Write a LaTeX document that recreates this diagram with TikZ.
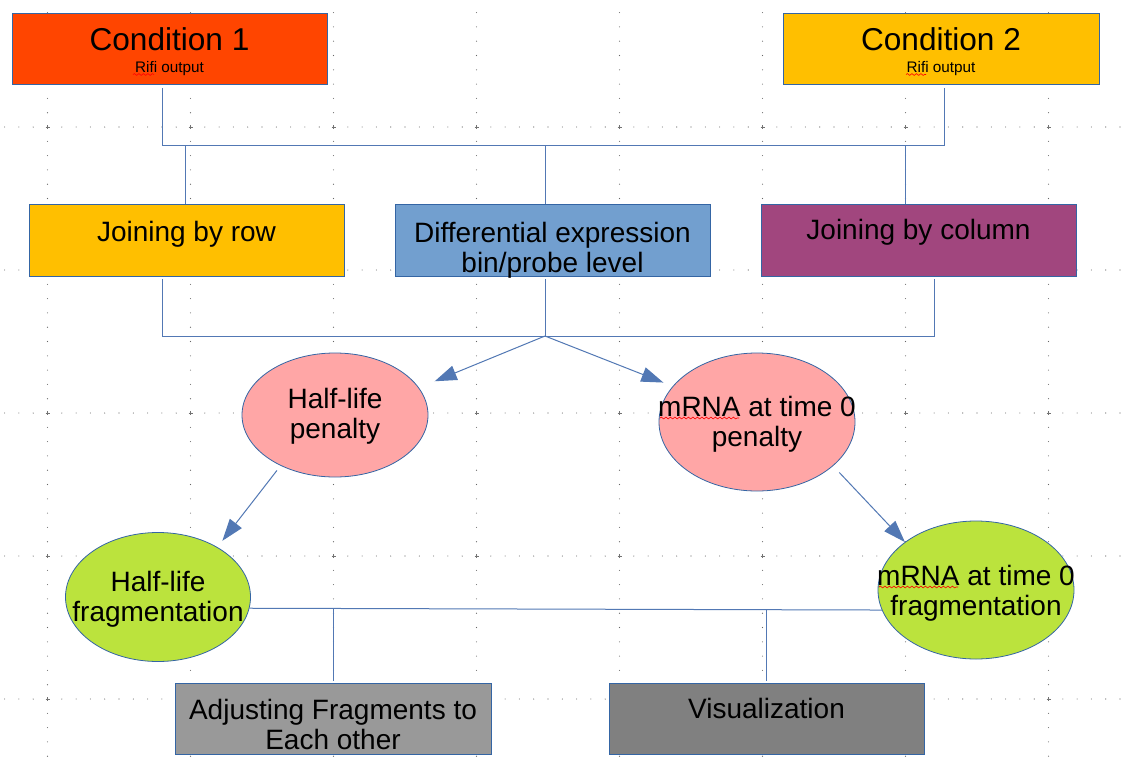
\documentclass[tikz,border=0pt]{standalone}
\usepackage{fontspec}
\setmainfont{Liberation Sans}
\usetikzlibrary{arrows.meta,shapes.geometric,decorations.pathmorphing}

\definecolor{condred}{RGB}{255,69,0}
\definecolor{condgold}{RGB}{255,191,0}
\definecolor{diffblue}{RGB}{114,159,207}
\definecolor{colplum}{RGB}{161,70,126}
\definecolor{penrose}{RGB}{255,166,166}
\definecolor{fraglime}{RGB}{187,227,61}
\definecolor{adjgray}{RGB}{153,153,153}
\definecolor{visgray}{RGB}{128,128,128}
\definecolor{edgeblue}{RGB}{52,101,164}
\definecolor{linkblue}{RGB}{82,120,180}

\tikzset{
  box/.style={draw=edgeblue, line width=0.8pt, minimum width=315pt, minimum height=71pt,
    inner sep=0pt, align=center, font=\fontsize{28}{30}\selectfont},
  blob/.style={ellipse, draw=edgeblue, line width=0.8pt, inner sep=0pt},
  blobtext/.style={align=center, inner sep=0pt, font=\fontsize{28}{30}\selectfont},
  textshift/.style 2 args={text height=#1, text depth=#2},
  condfont/.style={font=\fontsize{31.6}{22}\selectfont},
  link/.style={draw=linkblue, line width=1pt},
  flow/.style={link, -{Triangle[length=22pt,width=15pt]}},
  griddot/.style={fill=black!60, draw=none},
  gridcross/.style={draw=black!55, line width=0.4pt},
  spell/.style={draw=red, line width=0.6pt, decorate,
    decoration={snake, amplitude=0.9pt, segment length=4.5pt}}
}

\begin{document}
\begin{tikzpicture}[x=1pt, y=1pt]
\useasboundingbox (0,0) rectangle (1130,-766);
\fill[white] (0,0) rectangle (1130,-766);

% drawing grid
\foreach \k in {0,...,7}
  \foreach \j in {-8,...,44}
    {\fill[griddot] ({47.5+143*\k},{-127-14.3*\j}) circle (0.55);}
\foreach \r in {0,...,4}
  \foreach \i in {-3,...,75}
    {\fill[griddot] ({47.5+14.3*\i},{-127-143*\r}) circle (0.55);}
\foreach \k in {0,...,7}
  \foreach \r in {0,...,4}
    {\draw[gridcross] ({45.5+143*\k},{-127-143*\r}) -- ++(4,0) ({47.5+143*\k},{-125-143*\r}) -- ++(0,-4);}

% boxes
\node[box, fill=condred, condfont, textshift={50pt}{3pt}] (cond1) at (169.5,-48.5)
  {Condition 1\\{\fontsize{15.3}{22}\selectfont Rifi output}};
\node[box, fill=condgold, minimum width=316pt, condfont, textshift={50pt}{3pt}] (cond2) at (941,-48.5)
  {Condition 2\\{\fontsize{15.3}{22}\selectfont Rifi output}};
\node[box, fill=condgold, minimum height=72pt, textshift={20pt}{18pt}] (rowjoin) at (186.5,-240) {Joining by row};
\node[box, fill=diffblue, minimum height=72pt, textshift={66pt}{2pt}] (diffexp) at (552.5,-240)
  {Differential expression\\bin/probe level};
\node[box, fill=colplum, minimum height=72pt, textshift={20pt}{22pt}] (coljoin) at (918.5,-240) {Joining by column};
\node[box, fill=adjgray, minimum width=316pt, textshift={64pt}{3pt}] (adjust) at (333,-718.5) {Adjusting Fragments to\\Each other};
\node[box, fill=visgray, textshift={20pt}{21pt}] (visual) at (766.5,-718.5) {Visualization};

% ellipses
\node[blob, fill=penrose, minimum width=186pt, minimum height=124pt] (hlpen) at (335,-415) {};
\node[blob, fill=penrose, minimum width=196pt, minimum height=138pt] (mpen) at (757,-422) {};
\node[blob, fill=fraglime, minimum width=185pt, minimum height=129pt] (hlfrag) at (158,-597) {};
\node[blob, fill=fraglime, minimum width=196pt, minimum height=138pt] (mfrag) at (976,-590) {};
\node[blobtext, textshift={80pt}{34pt}] (hlpentxt) at (hlpen.center) {Half-life\\penalty};
\node[blobtext, textshift={80pt}{32pt}] (mpentxt) at (mpen.center) {mRNA at time 0\\penalty};
\node[blobtext, textshift={80pt}{32pt}] (hlfragtxt) at (hlfrag.center) {Half-life\\fragmentation};
\node[blobtext, textshift={80pt}{30pt}] (mfragtxt) at (mfrag.center) {mRNA at time 0\\fragmentation};

% spell marks
\draw[spell] (133,-74.5) -- (154,-74.5);
\draw[spell] (906,-74.5) -- (926,-74.5);
\draw[spell] (660,-418) -- (739,-418);
\draw[spell] (879,-587) -- (958,-587);

% connectors
\coordinate (topbus) at (0,-145);
\coordinate (midbus) at (0,-336);
\draw[link] ([xshift=-7.5pt,yshift=-4pt]cond1.south) |- ([xshift=3pt]cond2.south |- topbus)
  -- ([xshift=3pt,yshift=-4pt]cond2.south);
\foreach \n/\dx in {rowjoin/-1.5, diffexp/-7.5, coljoin/-13}
  {\draw[link] ([xshift=\dx pt]\n.north |- topbus) -- ([xshift=\dx pt]\n.north);}
\draw[link] ([xshift=-24.5pt,yshift=-3pt]rowjoin.south) |- ([xshift=15.5pt]coljoin.south |- midbus)
  -- ([xshift=15.5pt,yshift=-3pt]coljoin.south);
\coordinate (split) at ([xshift=-7.5pt]diffexp.south |- midbus);
\draw[link] ([xshift=-7.5pt,yshift=-3pt]diffexp.south) -- (split);
\draw[flow, shorten >=17pt] (split) -- (hlpen.18);
\draw[flow, shorten >=10pt] (split) -- (mpen.157.5);
\draw[flow, shorten <=6pt, shorten >=8pt] (hlpen.223) -- (hlfrag.40);
\draw[flow, shorten <=9pt] (mpen.-30) -- (mfrag.146);
\draw[link] (hlfrag.-7) -- (mfrag.192);
\draw[link] (adjust.north |- hlfrag.-7) -- ([yshift=2pt]adjust.north);
\draw[link] (visual.north |- mfrag.192) -- ([yshift=2pt]visual.north);
\end{tikzpicture}
\end{document}
